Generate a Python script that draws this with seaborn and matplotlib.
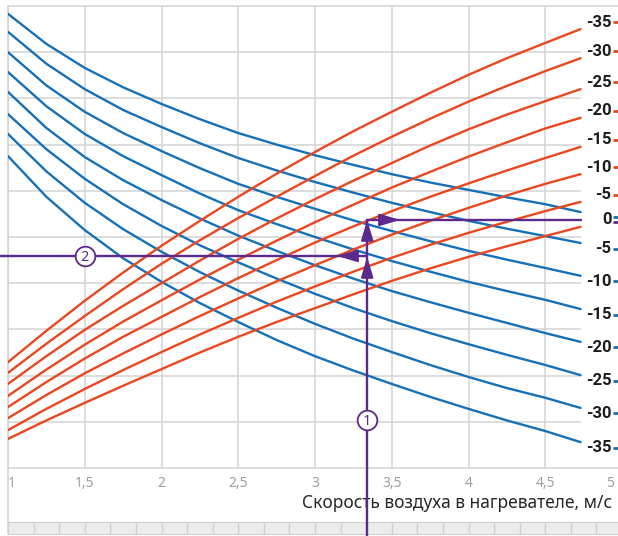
import numpy as np
import pandas as pd
import matplotlib
matplotlib.use("Agg")
import matplotlib.pyplot as plt
import matplotlib.transforms as mtransforms
import seaborn as sns

# ---------------- data ----------------
speed = [1.0, 1.25, 1.5, 1.75, 2.0, 2.25, 2.5, 2.75, 3.0, 3.25, 3.5, 3.75, 4.0, 4.25, 4.5, 4.73]  # м/с

# blue family (labels at right, bottom group) – chart units 0..10
blue_labels = ["0", "-5", "-10", "-15", "-20", "-25", "-30", "-35"]
blue_0   = [9.83, 9.18, 8.66, 8.24, 7.88, 7.55, 7.25, 7.00, 6.77, 6.56, 6.36, 6.18, 6.02, 5.86, 5.71, 5.54]
blue_m5  = [9.44, 8.75, 8.20, 7.75, 7.38, 7.03, 6.71, 6.44, 6.19, 5.96, 5.74, 5.54, 5.35, 5.18, 5.02, 4.87]
blue_m10 = [9.00, 8.28, 7.71, 7.25, 6.86, 6.49, 6.15, 5.87, 5.61, 5.36, 5.13, 4.91, 4.70, 4.51, 4.33, 4.16]
blue_m15 = [8.57, 7.83, 7.23, 6.75, 6.34, 5.94, 5.58, 5.28, 5.00, 4.73, 4.48, 4.25, 4.03, 3.83, 3.64, 3.44]
blue_m20 = [8.14, 7.36, 6.73, 6.23, 5.80, 5.40, 5.03, 4.70, 4.39, 4.10, 3.83, 3.59, 3.36, 3.14, 2.92, 2.73]
blue_m25 = [7.66, 6.90, 6.26, 5.71, 5.24, 4.82, 4.45, 4.10, 3.77, 3.46, 3.18, 2.92, 2.68, 2.45, 2.23, 2.01]
blue_m30 = [7.23, 6.42, 5.74, 5.17, 4.68, 4.24, 3.84, 3.47, 3.12, 2.80, 2.51, 2.23, 1.97, 1.73, 1.52, 1.30]
blue_m35 = [6.75, 5.87, 5.15, 4.54, 4.03, 3.57, 3.16, 2.77, 2.42, 2.11, 1.82, 1.54, 1.28, 1.03, 0.80, 0.56]

# red family (labels at right, top group)
red_labels = ["-35", "-30", "-25", "-20", "-15", "-10", "-5", "0"]
red_m35 = [2.29, 2.97, 3.62, 4.23, 4.81, 5.35, 5.87, 6.37, 6.84, 7.29, 7.71, 8.12, 8.51, 8.87, 9.20, 9.50]
red_m30 = [2.06, 2.69, 3.29, 3.87, 4.42, 4.93, 5.41, 5.87, 6.32, 6.76, 7.17, 7.56, 7.93, 8.27, 8.59, 8.87]
red_m25 = [1.82, 2.42, 2.99, 3.51, 4.00, 4.49, 4.96, 5.40, 5.82, 6.22, 6.60, 6.98, 7.33, 7.65, 7.94, 8.20]
red_m20 = [1.56, 2.13, 2.67, 3.17, 3.63, 4.08, 4.51, 4.92, 5.32, 5.70, 6.07, 6.41, 6.74, 7.05, 7.35, 7.58]
red_m15 = [1.32, 1.86, 2.37, 2.84, 3.27, 3.70, 4.11, 4.50, 4.88, 5.23, 5.56, 5.87, 6.16, 6.44, 6.71, 6.95]
red_m10 = [1.08, 1.58, 2.05, 2.48, 2.89, 3.29, 3.67, 4.04, 4.39, 4.73, 5.05, 5.35, 5.63, 5.90, 6.15, 6.36]
red_m5  = [0.82, 1.28, 1.71, 2.12, 2.51, 2.89, 3.25, 3.60, 3.93, 4.25, 4.55, 4.83, 5.09, 5.33, 5.56, 5.76]
red_0   = [0.63, 1.03, 1.41, 1.78, 2.14, 2.50, 2.84, 3.16, 3.46, 3.76, 4.05, 4.32, 4.57, 4.80, 5.02, 5.22]

xtick_vals = [1, 1.5, 2, 2.5, 3, 3.5, 4, 4.5, 5]
xtick_labels = ["1", "1,5", "2", "2,5", "3", "3,5", "4", "4,5", "5"]
xlabel_text = "Скорость воздуха в нагревателе, м/с"

# worked example path
ex_speed = 3.34
ex_level_2 = 4.59
ex_level_0 = 5.37
ex_mark_1 = 1.04

blue_series = [blue_0, blue_m5, blue_m10, blue_m15, blue_m20, blue_m25, blue_m30, blue_m35]
red_series = [red_m35, red_m30, red_m25, red_m20, red_m15, red_m10, red_m5, red_0]

rows = []
for fam, labs, ser in (("blue", blue_labels, blue_series), ("red", red_labels, red_series)):
    for lab, vals in zip(labs, ser):
        for s, v in zip(speed, vals):
            rows.append({"speed": s, "val": v, "curve": fam + lab, "family": fam})
df = pd.DataFrame(rows)

# ---------------- style ----------------
BLUE = "#1670b8"
RED = "#ea461f"
PURPLE = "#5b2a8c"
GRID = "#d3d3d3"

sns.set_style("white")
plt.rcParams["font.family"] = ["Noto Sans", "DejaVu Sans"]

W, H = 618, 536
fig = plt.figure(figsize=(W / 100, H / 100), dpi=100)
fig.patch.set_facecolor("white")

def fx(px):
    return px / W

def fy(py):
    return 1 - py / H

ax = fig.add_axes([fx(8), fy(468), 614 / W, 462 / H])
ax.set_zorder(2)
ax.set_xlim(1, 5)
ax.set_ylim(0, 10)
x_end = speed[-1]

# grid
for xv in [1, 1.5, 2, 2.5, 3, 3.5, 4, 4.5]:
    ax.axvline(xv, color=GRID, lw=1.1, zorder=0)
for yv in range(1, 10):
    ax.hlines(yv, 1, x_end, color=GRID, lw=1.1, zorder=0)

for side in ["top", "bottom", "left"]:
    ax.spines[side].set_color(GRID)
    ax.spines[side].set_linewidth(1.1)
ax.spines["right"].set_visible(False)
ax.plot([1, 1], [0, -1.43], color=GRID, lw=1.1, clip_on=False, zorder=0)

palette = {}
for lab in blue_labels:
    palette["blue" + lab] = BLUE
for lab in red_labels:
    palette["red" + lab] = RED
sns.lineplot(data=df, x="speed", y="val", hue="curve", palette=palette,
             estimator=None, sort=True, legend=False, lw=1.7, ax=ax, zorder=3)
ax.set_ylabel("")

# right-hand labels
lab_font = dict(family=["Roboto", "DejaVu Sans"], fontsize=12, fontweight="bold", color="#1c1c1c")
dx_pt = (612 - 581) * 0.72
mk_dx = (617 - 581) / 100.0

def add_marker(y, color, dy_pt):
    tr = ax.transData + mtransforms.ScaledTranslation(mk_dx, dy_pt / 72.0, fig.dpi_scale_trans)
    ax.plot([x_end], [y], marker="_", ms=6, mew=2, color=color, transform=tr, clip_on=False)

for lab, vals in zip(red_labels, red_series):
    if lab == "0":
        continue
    ax.annotate(lab, xy=(x_end, vals[-1]), xytext=(dx_pt, 5), textcoords="offset points",
                ha="right", va="center", annotation_clip=False, **lab_font)
    add_marker(vals[-1], RED, 5)
for lab, vals in zip(blue_labels, blue_series):
    if lab == "0":
        continue
    ax.annotate(lab, xy=(x_end, vals[-1]), xytext=(dx_pt, -4), textcoords="offset points",
                ha="right", va="center", annotation_clip=False, **lab_font)
    add_marker(vals[-1], BLUE, -4)
zero_y = (red_0[-1] + blue_0[-1]) / 2
ax.annotate("0", xy=(x_end, zero_y), xytext=(dx_pt, 0), textcoords="offset points",
            ha="right", va="center", annotation_clip=False, **lab_font)
add_marker(zero_y, BLUE, 1.5)
add_marker(zero_y, PURPLE, -1.5)

# worked example (purple)
ax.plot([0.948, ex_speed], [ex_level_2, ex_level_2], color=PURPLE, lw=1.7, clip_on=False, zorder=5)
ax.plot([ex_speed, ex_speed], [ex_level_0, -1.7], color=PURPLE, lw=1.7, clip_on=False, zorder=5)
ax.plot([ex_speed, x_end], [ex_level_0, ex_level_0], color=PURPLE, lw=1.7, zorder=5)

astyle = "-|>,head_length=12,head_width=3.6"
def arrow(tip, base):
    ax.annotate("", xy=tip, xytext=base,
                arrowprops=dict(arrowstyle=astyle, mutation_scale=1, color=PURPLE,
                                lw=1.7, shrinkA=0, shrinkB=0), zorder=6)

arrow((ex_speed, ex_level_0), (ex_speed, ex_level_0 - 0.4))
arrow((ex_speed, ex_level_2 - 0.02), (ex_speed, ex_level_2 - 0.42))
arrow((3.143, ex_level_2), (3.26, ex_level_2))
arrow((3.554, ex_level_0), (3.443, ex_level_0))

for (cx, cy, t) in [(1.5, ex_level_2, "2"), (ex_speed, ex_mark_1, "1")]:
    ax.scatter([cx], [cy], s=200, facecolor="white", edgecolor=PURPLE, linewidth=1.3,
               zorder=7, clip_on=False)
    ax.text(cx, cy, t, ha="center", va="center_baseline", color=PURPLE, fontsize=10.5,
            fontweight="semibold", zorder=8)

# x axis ticks and label
ax.set_yticks([])
ax.set_xticks(xtick_vals)
ax.set_xticklabels(xtick_labels)
ax.tick_params(axis="x", length=0, pad=6, labelsize=10, labelcolor="#9d9d9d")
tls = ax.get_xticklabels()
tls[0].set_ha("left")
tls[-1].set_ha("right")
tls[-1].set_transform(tls[-1].get_transform() +
                      mtransforms.ScaledTranslation(-8 / 100, 0, fig.dpi_scale_trans))
ax.set_xlabel(xlabel_text, fontsize=12.5, color="#262626")
ax.xaxis.set_label_coords((612 - 8) / 614, (468 - 503) / 462)
ax.xaxis.label.set_ha("right")
ax.xaxis.label.set_va("center")

# bottom strip
sx = fig.add_axes([fx(8), fy(534), 614 / W, 12 / H])
sx.set_zorder(1)
sx.set_xlim(1, 5)
sx.set_ylim(0, 1)
sx.set_facecolor("#ececec")
for k in range(1, 24):
    sx.axvline(1 + k / 6, color="#cfcfcf", lw=1.0)
for side in sx.spines:
    sx.spines[side].set_color("#cfcfcf")
sx.spines["right"].set_visible(False)
sx.set_xticks([])
sx.set_yticks([])

fig.savefig("out.png", dpi=100, facecolor="white")
